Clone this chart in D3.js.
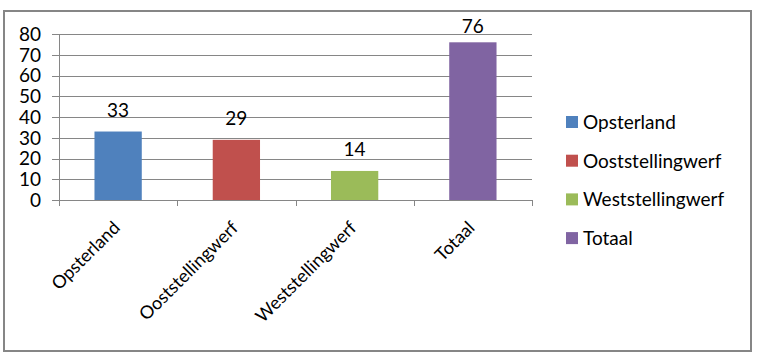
<!DOCTYPE html>
<html>
<head>
<meta charset="utf-8">
<script src="https://cdn.jsdelivr.net/npm/d3@7"></script>
<style>
  body { margin: 0; background: #fff; }
  text { font-family: Lato, "Open Sans", sans-serif; fill: #000; }
</style>
</head>
<body>
<svg width="763" height="362"></svg>
<script>
var categories = ["Opsterland", "Ooststellingwerf", "Weststellingwerf", "Totaal"];
var values = [33, 29, 14, 76];
var colors = ["#4F81BD", "#C0504D", "#9BBB59", "#8064A2"];
var yTicks = [0, 10, 20, 30, 40, 50, 60, 70, 80];

var svg = d3.select("svg");

// outer chart frame
svg.append("rect")
    .attr("x", 4).attr("y", 11)
    .attr("width", 747).attr("height", 340)
    .attr("fill", "none")
    .attr("stroke", "#868686")
    .attr("stroke-width", 2);

var plotLeft = 59, plotRight = 532, plotTop = 34, plotBottom = 200;

var x = d3.scaleBand().domain(categories).range([plotLeft, plotRight]).paddingInner(0.6).paddingOuter(0.3);
var y = d3.scaleLinear().domain([0, 80]).range([plotBottom, plotTop]);

// gridlines
svg.append("g")
    .selectAll("line")
    .data(yTicks)
    .enter().append("line")
    .attr("x1", plotLeft - 7).attr("x2", plotRight)
    .attr("y1", function(d) { return Math.round(y(d)) + 0.5; })
    .attr("y2", function(d) { return Math.round(y(d)) + 0.5; })
    .attr("stroke", "#868686");

// y axis line
svg.append("line")
    .attr("x1", plotLeft + 0.5).attr("x2", plotLeft + 0.5)
    .attr("y1", plotTop).attr("y2", plotBottom)
    .attr("stroke", "#868686");

// y tick labels
svg.append("g")
    .selectAll("text")
    .data(yTicks)
    .enter().append("text")
    .attr("x", 41)
    .attr("y", function(d) { return y(d); })
    .attr("dy", "0.36em")
    .attr("text-anchor", "end")
    .attr("font-size", 19)
    .text(function(d) { return d; });

// category ticks
var step = (plotRight - plotLeft) / categories.length;
svg.append("g")
    .selectAll("line")
    .data(d3.range(categories.length + 1))
    .enter().append("line")
    .attr("x1", function(i) { return Math.round(plotLeft + i * step) + 0.5; })
    .attr("x2", function(i) { return Math.round(plotLeft + i * step) + 0.5; })
    .attr("y1", plotBottom).attr("y2", plotBottom + 6)
    .attr("stroke", "#868686");

// bars
svg.append("g")
    .selectAll("rect")
    .data(values)
    .enter().append("rect")
    .attr("x", function(d, i) { return x(categories[i]); })
    .attr("y", function(d) { return y(d); })
    .attr("width", x.bandwidth())
    .attr("height", function(d) { return plotBottom - y(d); })
    .attr("fill", function(d, i) { return colors[i]; });

// value labels (excel nudges the top one down to stay inside)
svg.append("g")
    .selectAll("text")
    .data(values)
    .enter().append("text")
    .attr("x", function(d, i) { return x(categories[i]) + x.bandwidth() / 2; })
    .attr("y", function(d) { return Math.max(y(d) - 15, 33); })
    .attr("text-anchor", "middle")
    .attr("font-size", 19)
    .text(function(d) { return d; });

// rotated category labels
svg.append("g")
    .selectAll("text")
    .data(categories)
    .enter().append("text")
    .attr("transform", function(d) {
        return "translate(" + (x(d) + x.bandwidth() / 2 - 6) + "," + (plotBottom + 20) + ") rotate(-45)";
    })
    .attr("text-anchor", "end")
    .attr("dy", "0.7em")
    .attr("font-size", 18)
    .text(function(d) { return d; });

// legend
var legend = svg.append("g")
    .selectAll("g")
    .data(categories)
    .enter().append("g")
    .attr("transform", function(d, i) { return "translate(566," + (122 + i * 38.7) + ")"; });

legend.append("rect")
    .attr("x", 0).attr("y", -6)
    .attr("width", 12).attr("height", 12)
    .attr("fill", function(d, i) { return colors[i]; });

legend.append("text")
    .attr("x", 17)
    .attr("dy", "0.36em")
    .attr("font-size", 19)
    .text(function(d) { return d; });
</script>
</body>
</html>
